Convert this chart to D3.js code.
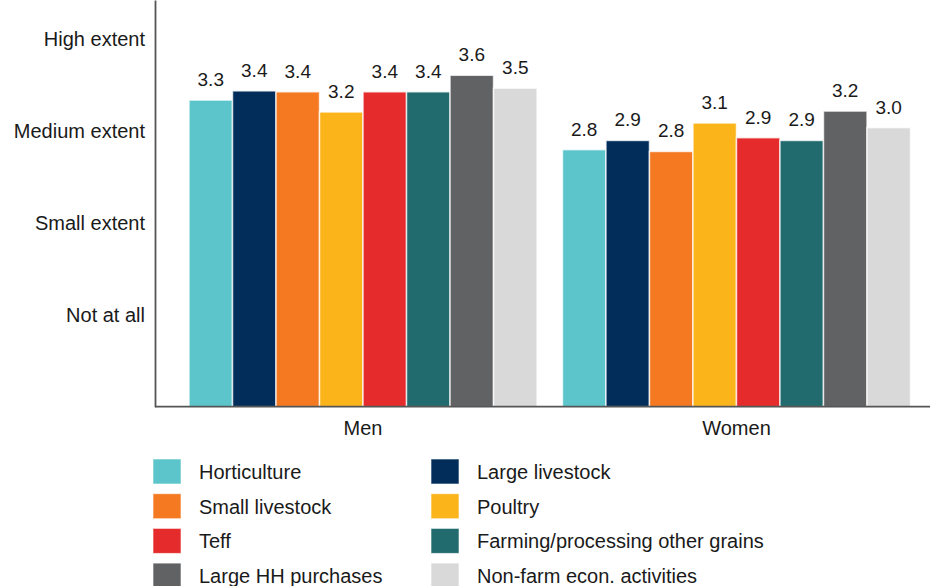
<!DOCTYPE html>
<html>
<head>
<meta charset="utf-8">
<script src="https://cdn.jsdelivr.net/npm/d3@7"></script>
<style>
  body { margin: 0; background: #fff; }
  text { font-family: "Liberation Sans", Arial, sans-serif; fill: #1a1a1a; }
</style>
</head>
<body>
<div id="chart"></div>
<script>
// data
var groups = ["Men", "Women"];
var series = ["Horticulture", "Large livestock", "Small livestock", "Poultry", "Teff",
              "Farming/processing other grains", "Large HH purchases", "Non-farm econ. activities"];
var menValues   = [3.34, 3.44, 3.43, 3.21, 3.43, 3.43, 3.61, 3.47];
var womenValues = [2.80, 2.90, 2.78, 3.09, 2.93, 2.90, 3.22, 3.04];
var tickValues = [1, 2, 3, 4];
var tickLabels = ["Not at all", "Small extent", "Medium extent", "High extent"];
var colors = ["#5bc5cb", "#022d5b", "#f47920", "#fbb41a", "#e52b2b", "#216a6e", "#616264", "#d9d9d9"];

var width = 930, height = 586;
var axisX = 155, axisY = 406.7;

var svg = d3.select("#chart").append("svg")
    .attr("width", width)
    .attr("height", height);

var rows = groups.map(function (g, i) {
    var vals = i === 0 ? menValues : womenValues;
    return { group: g, values: series.map(function (s, j) { return { key: s, value: vals[j] }; }) };
});

var x0 = d3.scaleBand()
    .domain(groups)
    .range([189, 910.5])
    .paddingInner(0.068);

var x1 = d3.scaleBand()
    .domain(series)
    .range([0, x0.bandwidth()]);

var y = d3.scaleLinear()
    .domain([0, 4.43])
    .range([axisY, 0]);

var color = d3.scaleOrdinal().domain(series).range(colors);

// bars
var g = svg.append("g").selectAll("g")
    .data(rows)
    .enter().append("g")
    .attr("transform", function (d) { return "translate(" + x0(d.group) + ",0)"; });

g.selectAll("rect")
    .data(function (d) { return d.values; })
    .enter().append("rect")
    .attr("x", function (d) { return x1(d.key); })
    .attr("y", function (d) { return y(d.value); })
    .attr("width", x1.bandwidth())
    .attr("height", function (d) { return axisY - y(d.value); })
    .attr("fill", function (d) { return color(d.key); })
    .attr("stroke", "#fff")
    .attr("stroke-opacity", 0.75)
    .attr("stroke-width", 1.5);

g.selectAll("text")
    .data(function (d) { return d.values; })
    .enter().append("text")
    .attr("x", function (d) { return x1(d.key) + x1.bandwidth() / 2; })
    .attr("y", function (d) { return y(d.value) - 14; })
    .attr("text-anchor", "middle")
    .style("font-size", "19px")
    .text(function (d) { return d3.format(".1f")(d.value); });

// axes
var yAxis = d3.axisLeft(y)
    .tickValues(tickValues)
    .tickSize(0)
    .tickPadding(10)
    .tickFormat(function (d, i) { return tickLabels[i]; });

var gY = svg.append("g")
    .attr("transform", "translate(" + axisX + ",0)")
    .call(yAxis);
gY.select(".domain").attr("stroke", "#555").attr("stroke-width", 1.8);
gY.selectAll(".tick text").style("font-size", "20px").attr("fill", "#1a1a1a");

var xAxis = d3.axisBottom(x0)
    .tickSize(0)
    .tickPadding(14);

var gX = svg.append("g")
    .attr("transform", "translate(0," + axisY + ")")
    .call(xAxis);
gX.select(".domain").remove();
gX.selectAll(".tick text").style("font-size", "20px").attr("fill", "#1a1a1a");

svg.append("line")
    .attr("x1", axisX).attr("x2", width)
    .attr("y1", axisY).attr("y2", axisY)
    .attr("stroke", "#555")
    .attr("stroke-width", 1.8);

// legend
var legend = svg.append("g").selectAll("g")
    .data(series)
    .enter().append("g")
    .attr("transform", function (d, i) {
        return "translate(" + (i % 2 === 0 ? 153 : 431) + "," + (459 + Math.floor(i / 2) * 34.7) + ")";
    });

legend.append("rect")
    .attr("width", 28)
    .attr("height", 25)
    .attr("fill", function (d) { return color(d); })
    .attr("stroke", "#fff")
    .attr("stroke-opacity", 0.6);

legend.append("text")
    .attr("x", 46)
    .attr("y", 13)
    .attr("dy", "0.35em")
    .style("font-size", "20px")
    .text(function (d) { return d; });
</script>
</body>
</html>
